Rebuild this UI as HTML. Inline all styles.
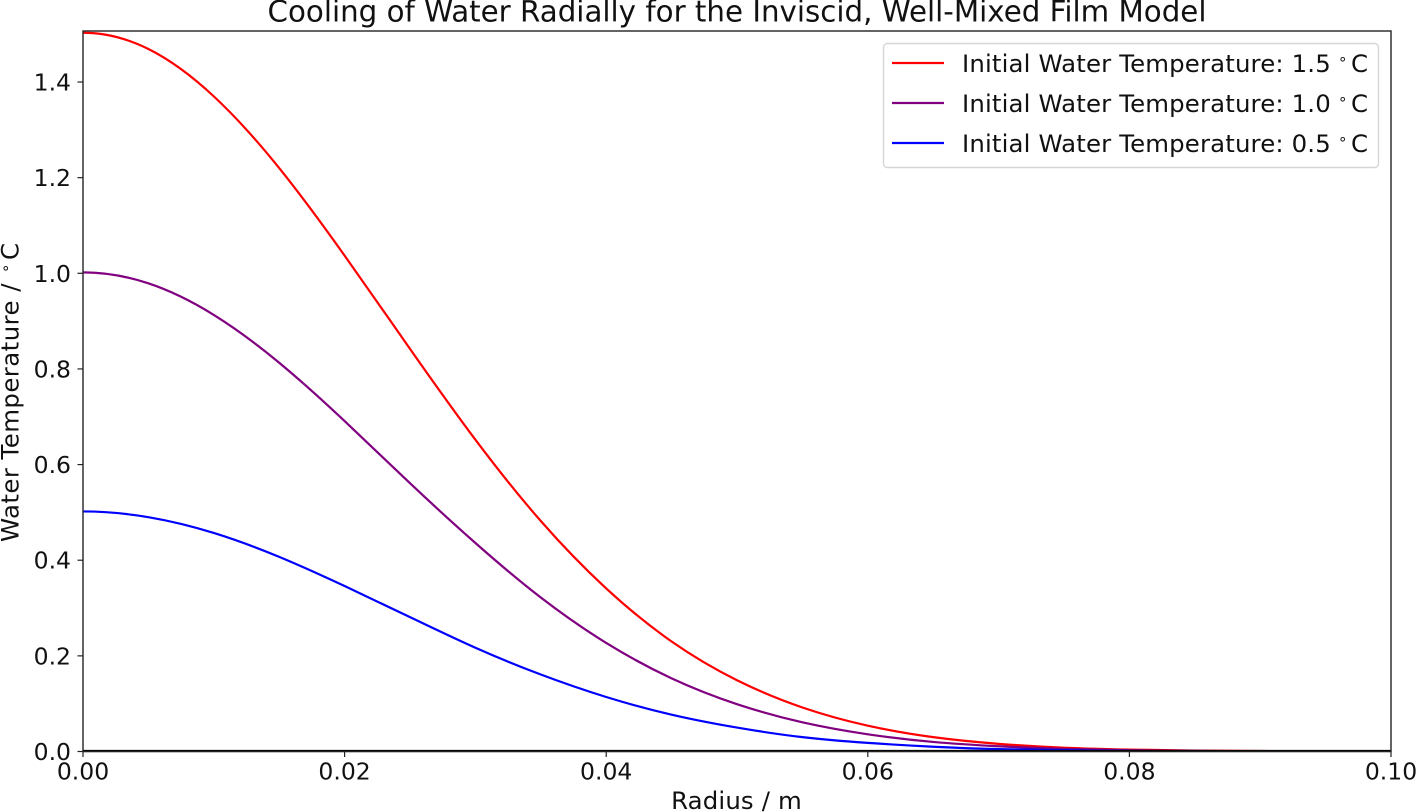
<!DOCTYPE html>
<html lang="en">
<head>
<meta charset="utf-8">
<title>Cooling of Water Radially</title>
<style>
  html, body { margin: 0; padding: 0; background: #fff; }
  svg { display: block; font-family: "DejaVu Sans", "Liberation Sans", sans-serif; fill: #111; filter: blur(0.35px); }
  .lbl { font-size: 24.4px; letter-spacing: 0.15px; }
  .ylbl { font-size: 24.4px; letter-spacing: 0.45px; }
</style>
</head>
<body>
<svg id="chart" xmlns="http://www.w3.org/2000/svg" width="1416" height="812" viewBox="0 0 1416 812">
  <defs><clipPath id="plot-clip"><rect x="83" y="31" width="1308" height="721"/></clipPath></defs>
  <text x="737" y="21.5" font-size="29.3" text-anchor="middle">Cooling of Water Radially for the Inviscid, Well-Mixed Film Model</text>
  <g id="series-layer" clip-path="url(#plot-clip)"></g>
  <line x1="83" y1="751" x2="1391" y2="751" stroke="#000" stroke-width="2.2"/>
  <rect x="83" y="31" width="1308" height="720.5" fill="none" stroke="#222" stroke-width="1.4"/>
  <g id="tick-layer"></g>
  <text class="lbl" x="736.5" y="809" text-anchor="middle">Radius / m</text>
  <text class="ylbl" transform="translate(18.5,542) rotate(-90)">Water Temperature / <tspan x="269" font-size="15" dy="-8">∘</tspan><tspan x="282" dy="8">C</tspan></text>
  <g>
    <rect x="883.5" y="43.5" width="495" height="124" rx="4" fill="#fff" fill-opacity="0.8" stroke="#d6d6d6" stroke-width="1.4"/>
    <g>
      <line x1="892" y1="63" x2="944" y2="63" stroke="#ff0000" stroke-width="2.2"/>
      <text class="lbl" x="962" y="72">Initial Water Temperature: 1.5<tspan x="1338" font-size="15" dy="-8">∘</tspan><tspan x="1351" dy="8">C</tspan></text>
    </g>
    <g>
      <line x1="892" y1="103" x2="944" y2="103" stroke="#800080" stroke-width="2.2"/>
      <text class="lbl" x="962" y="112">Initial Water Temperature: 1.0<tspan x="1338" font-size="15" dy="-8">∘</tspan><tspan x="1351" dy="8">C</tspan></text>
    </g>
    <g>
      <line x1="892" y1="143" x2="944" y2="143" stroke="#0000ff" stroke-width="2.2"/>
      <text class="lbl" x="962" y="152">Initial Water Temperature: 0.5<tspan x="1338" font-size="15" dy="-8">∘</tspan><tspan x="1351" dy="8">C</tspan></text>
    </g>
  </g>
</svg>
<script>
const radius = [0,0.005,0.01,0.015,0.02,0.025,0.03,0.035,0.04,0.045,0.05,0.055,0.06,0.065,0.07,0.075,0.08,0.085,0.09,0.095,0.1];
const tempRed = [1.503,1.469,1.37,1.22,1.037,0.842,0.652,0.482,0.341,0.23,0.149,0.092,0.054,0.03,0.016,0.008,0.004,0.002,0.001,0,0];
const tempPurple = [1.002,0.979,0.913,0.813,0.691,0.561,0.436,0.322,0.227,0.153,0.099,0.061,0.036,0.02,0.011,0.0055,0.0027,0.0012,0.0005,0.0002,0.0001];
const tempBlue = [0.502,0.49,0.457,0.407,0.346,0.281,0.217,0.161,0.114,0.077,0.05,0.03,0.018,0.01,0.005,0.003,0.001,0.001,0,0,0];
const xTickLabels = ["0.00","0.02","0.04","0.06","0.08","0.10"];
const yTickLabels = ["0.0","0.2","0.4","0.6","0.8","1.0","1.2","1.4"];

const NS = 'http://www.w3.org/2000/svg';
const xScale = v => 83 + (v / 0.1) * 1308;
const yScale = v => 751.5 - v * 478.2;

function mk(tag, attrs, parent) {
  const el = document.createElementNS(NS, tag);
  for (const k in attrs) el.setAttribute(k, attrs[k]);
  parent.appendChild(el);
  return el;
}

/* Clamped cubic spline through the data points, emitted as Bezier segments. */
function smoothPath(xs, ys) {
  const px = xs.map(xScale), py = ys.map(yScale);
  const n = px.length;
  const h = px[1] - px[0];
  const m = new Array(n).fill(0);
  const cp = new Array(n).fill(0), dp = new Array(n).fill(0);
  for (let i = 1; i < n - 1; i++) {
    const rhs = 3 * (py[i + 1] - py[i - 1]) / h;
    const denom = 4 - cp[i - 1];
    cp[i] = 1 / denom;
    dp[i] = (rhs - dp[i - 1]) / denom;
  }
  for (let i = n - 2; i >= 1; i--) m[i] = dp[i] - cp[i] * m[i + 1];
  let d = 'M' + px[0].toFixed(2) + ' ' + py[0].toFixed(2);
  for (let i = 0; i < n - 1; i++) {
    const c1x = px[i] + h / 3, c1y = py[i] + m[i] * h / 3;
    const c2x = px[i + 1] - h / 3, c2y = py[i + 1] - m[i + 1] * h / 3;
    d += 'C' + c1x.toFixed(2) + ' ' + c1y.toFixed(2) + ' ' + c2x.toFixed(2) + ' ' + c2y.toFixed(2) + ' ' + px[i + 1].toFixed(2) + ' ' + py[i + 1].toFixed(2);
  }
  return d;
}

const seriesLayer = document.getElementById('series-layer');
const tickLayer = document.getElementById('tick-layer');

const redLine = mk('path', { d: smoothPath(radius, tempRed), fill: 'none', stroke: '#ff0000', 'stroke-width': 2.2 }, seriesLayer);



const purpleLine = mk('path', { d: smoothPath(radius, tempPurple), fill: 'none', stroke: '#800080', 'stroke-width': 2.2 }, seriesLayer);



const blueLine = mk('path', { d: smoothPath(radius, tempBlue), fill: 'none', stroke: '#0000ff', 'stroke-width': 2.2 }, seriesLayer);



xTickLabels.forEach(label => {
  const x = xScale(parseFloat(label));
  const tick = mk('line', { x1: x, y1: 751.5, x2: x, y2: 757, stroke: '#222', 'stroke-width': 1.2 }, tickLayer);
  
  
  const text = mk('text', { x: x, y: 779.5, 'font-size': 23.5, 'text-anchor': 'middle' }, tickLayer);
  text.textContent = label;
  
  
});

yTickLabels.forEach(label => {
  const y = yScale(parseFloat(label));
  const tick = mk('line', { x1: 77.5, y1: y, x2: 83, y2: y, stroke: '#222', 'stroke-width': 1.2 }, tickLayer);
  
  
  const text = mk('text', { x: 71, y: y + 8.5, 'font-size': 23.5, 'text-anchor': 'end' }, tickLayer);
  text.textContent = label;
  
  
});
</script>
</body>
</html>
